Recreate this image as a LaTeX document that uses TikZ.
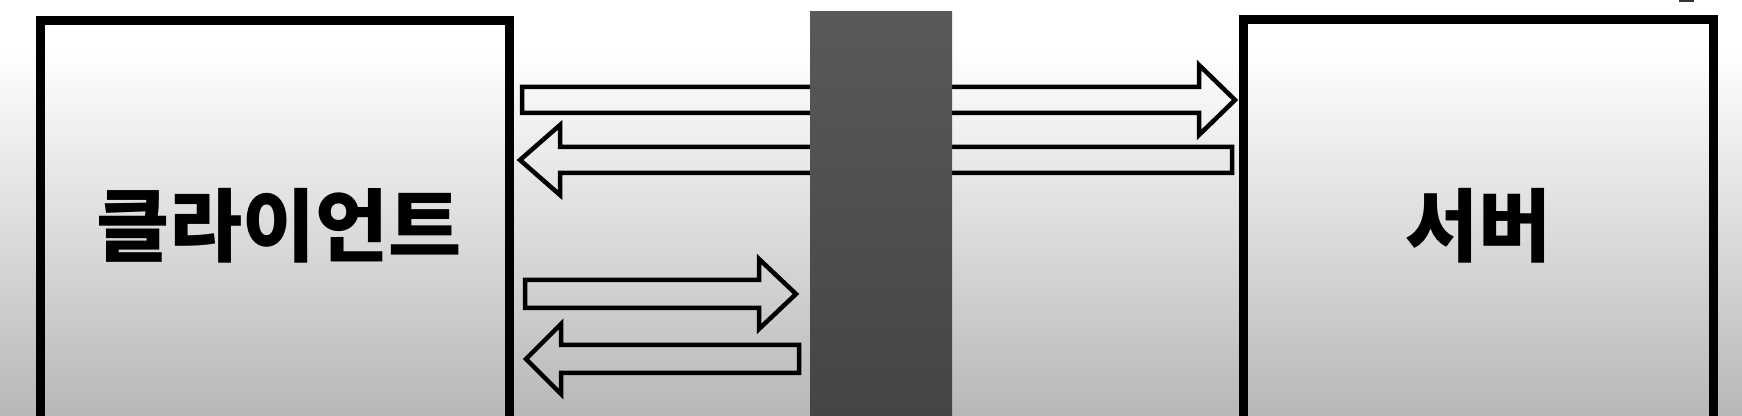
\documentclass[tikz,border=0pt]{standalone}
\usepackage{fontspec}
\newfontfamily\krfont{Noto Sans CJK KR}
\usetikzlibrary{positioning}

\tikzset{
  hostbox/.style={draw, line width=0.9mm, minimum width=4.685cm, minimum height=4.10cm,
    inner sep=0pt, font=\krfont\bfseries\fontsize{22.6}{22.6}\selectfont},
  pipe/.style={draw, line width=0.45mm}
}

\begin{document}
\begin{tikzpicture}[x=0.01cm, y=0.01cm]
  \useasboundingbox (0,0) rectangle (1742,-416);
  \clip (0,0) rectangle (1742,-416);
  % backdrop
  \fill[white] (0,0) rectangle (1742,-50);
  \shade[top color=white, bottom color=gray!56] (0,-50) rectangle (1742,-416);
  % client and server
  \node[hostbox] (client) at (275,-226) {\hspace{0.08cm}클라이언트};
  \node[hostbox, minimum width=4.69cm, minimum height=4.12cm] (server) at (1478.5,-226) {서버};
  % long pair: client <-> server
  \draw[pipe] (522,-87) -- (1199,-87) -- (1199,-65) -- (1235,-100) -- (1199,-135)
    -- (1199,-113) -- (522,-113) -- cycle;
  \draw[pipe] (1232,-147) -- (560,-147) -- (560,-125) -- (520,-160) -- (560,-195)
    -- (560,-173) -- (1232,-173) -- cycle;
  % short pair: client <-> wall
  \draw[pipe] (525,-280) -- (759,-280) -- (759,-259) -- (796,-294) -- (759,-329)
    -- (759,-308) -- (525,-308) -- cycle;
  \draw[pipe] (799,-345) -- (561,-345) -- (561,-324) -- (526,-359) -- (561,-394)
    -- (561,-373) -- (799,-373) -- cycle;
  % wall
  \shade[top color=black!65, bottom color=black!73] (810,-12) rectangle (952,-416);
  \fill[black!80] (1679,0) rectangle (1694,-2);
\end{tikzpicture}
\end{document}
